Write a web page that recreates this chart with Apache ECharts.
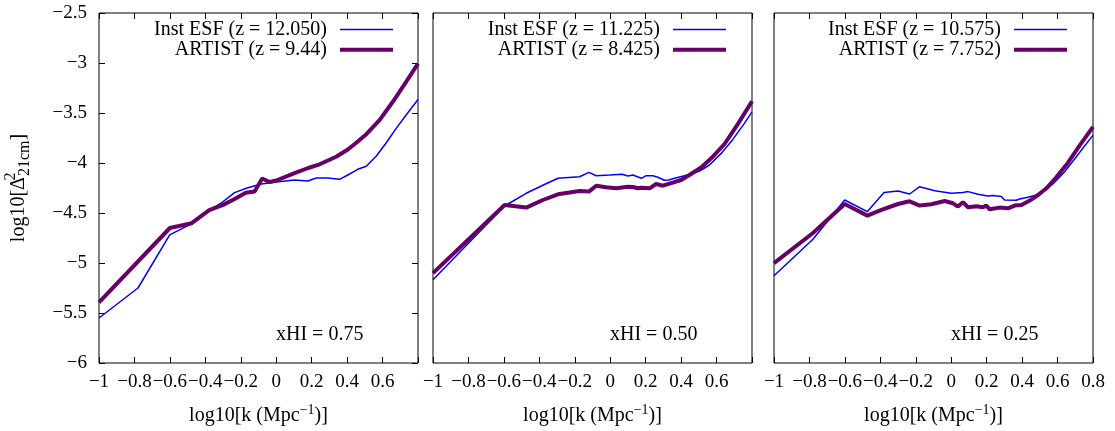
<!DOCTYPE html>
<html>
<head>
<meta charset="utf-8">
<script src="https://cdn.jsdelivr.net/npm/echarts@6/dist/echarts.min.js"></script>
<style>
  html, body { margin: 0; padding: 0; background: #fff; }
  #chart { width: 1115px; height: 431px; }
</style>
</head>
<body>
<div id="chart"></div>
<script>
  // axis ticks
  var xTicks = [-1, -0.8, -0.6, -0.4, -0.2, 0, 0.2, 0.4, 0.6, 0.8];
  var yTicks = [-6, -5.5, -5, -4.5, -4, -3.5, -3, -2.5];

  var xhiLabels = ['xHI = 0.75', 'xHI = 0.50', 'xHI = 0.25'];
  var esfNames = ['Inst ESF (z = 12.050)', 'Inst ESF (z = 11.225)', 'Inst ESF (z = 10.575)'];
  var artistNames = ['ARTIST (z = 9.44)', 'ARTIST (z = 8.425)', 'ARTIST (z = 7.752)'];

  // xHI = 0.75
  var esfK75 = [-1, -0.78, -0.601, -0.479, -0.376, -0.31, -0.235, -0.169, -0.084, 0.0, 0.104, 0.179, 0.226, 0.292, 0.329, 0.357, 0.404, 0.46, 0.508, 0.565, 0.62, 0.677, 0.733, 0.80];
  var esfP75 = [-5.55, -5.25, -4.718, -4.608, -4.475, -4.40, -4.296, -4.253, -4.21, -4.19, -4.17, -4.18, -4.15, -4.15, -4.157, -4.163, -4.12, -4.063, -4.033, -3.93, -3.80, -3.654, -3.52, -3.365];
  var artK75 = [-1, -0.60, -0.477, -0.378, -0.30, -0.237, -0.172, -0.122, -0.079, -0.038, 0.0, 0.10, 0.18, 0.245, 0.338, 0.404, 0.45, 0.507, 0.583, 0.658, 0.733, 0.80];
  var artP75 = [-5.394, -4.650, -4.602, -4.472, -4.419, -4.362, -4.298, -4.284, -4.155, -4.19, -4.175, -4.103, -4.05, -4.013, -3.937, -3.865, -3.80, -3.714, -3.571, -3.388, -3.189, -3.006];

  // xHI = 0.50
  var esfK50 = [-1, -0.596, -0.474, -0.38, -0.295, -0.173, -0.12, -0.079, -0.004, 0.068, 0.10, 0.128, 0.175, 0.203, 0.241, 0.269, 0.306, 0.331, 0.363, 0.419, 0.457, 0.504, 0.56, 0.626, 0.692, 0.757, 0.80];
  var esfP50 = [-5.168, -4.43, -4.303, -4.223, -4.153, -4.137, -4.094, -4.127, -4.12, -4.113, -4.13, -4.12, -4.153, -4.127, -4.127, -4.143, -4.173, -4.17, -4.153, -4.127, -4.11, -4.08, -4.02, -3.904, -3.764, -3.604, -3.488];
  var artK50 = [-1, -0.596, -0.474, -0.38, -0.295, -0.173, -0.12, -0.079, -0.023, 0.034, 0.10, 0.128, 0.156, 0.175, 0.222, 0.259, 0.297, 0.353, 0.40, 0.447, 0.513, 0.579, 0.645, 0.72, 0.80];
  var artP50 = [-5.101, -4.42, -4.446, -4.37, -4.313, -4.28, -4.286, -4.227, -4.243, -4.253, -4.237, -4.24, -4.253, -4.247, -4.253, -4.21, -4.227, -4.197, -4.17, -4.12, -4.044, -3.937, -3.81, -3.611, -3.382];

  // xHI = 0.25
  var esfK25 = [-1, -0.78, -0.601, -0.473, -0.379, -0.30, -0.235, -0.178, -0.093, 0.0, 0.066, 0.095, 0.151, 0.207, 0.235, 0.283, 0.301, 0.367, 0.386, 0.433, 0.48, 0.527, 0.574, 0.64, 0.706, 0.80];
  var esfP25 = [-5.128, -4.762, -4.37, -4.486, -4.296, -4.28, -4.31, -4.237, -4.277, -4.303, -4.296, -4.286, -4.313, -4.33, -4.326, -4.336, -4.37, -4.373, -4.36, -4.343, -4.32, -4.27, -4.21, -4.087, -3.937, -3.721];
  var artK25 = [-1, -0.78, -0.601, -0.473, -0.394, -0.30, -0.235, -0.178, -0.112, -0.037, 0.01, 0.038, 0.066, 0.095, 0.142, 0.179, 0.198, 0.217, 0.273, 0.32, 0.358, 0.396, 0.443, 0.49, 0.537, 0.593, 0.659, 0.725, 0.80];
  var artP25 = [-5.002, -4.70, -4.41, -4.526, -4.469, -4.41, -4.383, -4.426, -4.413, -4.38, -4.403, -4.436, -4.393, -4.443, -4.433, -4.443, -4.426, -4.463, -4.446, -4.453, -4.426, -4.42, -4.376, -4.32, -4.253, -4.143, -3.997, -3.824, -3.638];

  var esfK = [esfK75, esfK50, esfK25];
  var esfP = [esfP75, esfP50, esfP25];
  var artK = [artK75, artK50, artK25];
  var artP = [artP75, artP50, artP25];

  var FONT = 'Liberation Serif';
  var BLUE = '#0000ff', PURPLE = '#660066';
  var gridLeft = [99, 433, 774];
  var legendRight = [720, 387, 46];
  var noteX = [319, 653, 994];

  function pairs(xs, ys) {
    return xs.map(function (x, i) { return [x, ys[i]]; });
  }
  function fmt(v) {
    return String(Math.round(v * 10) / 10).replace('-', '\u2212');
  }
  var tick = { show: true, inside: true, length: 6, lineStyle: { color: '#000' } };

  var grids = [], xAxes = [], yAxes = [], series = [], legends = [], graphics = [];

  for (var i = 0; i < 3; i++) {
    grids.push({
      left: gridLeft[i], top: 13, width: 319, height: 350,
      show: true, borderColor: '#000', borderWidth: 1
    });
  }

  // bottom x axes
  for (var i = 0; i < 3; i++) {
    (function (p) {
      xAxes.push({
        type: 'value', gridIndex: p, position: 'bottom',
        min: xTicks[0], max: xTicks[xTicks.length - 1], interval: 0.2,
        axisLine: { show: false, onZero: false },
        axisTick: tick,
        splitLine: { show: false },
        axisLabel: {
          margin: 10, color: '#000', fontFamily: FONT, fontSize: 19,
          formatter: function (v) { return (p < 2 && v > 0.79) ? '' : fmt(v); }
        },
        name: '{m|log10[k (Mpc}{sup|\u22121}{m|)]}',
        nameLocation: 'middle', nameGap: 40,
        nameTextStyle: {
          rich: {
            m: { fontFamily: FONT, fontSize: 20, color: '#000' },
            sup: { fontFamily: FONT, fontSize: 14, color: '#000', padding: [0, 0, 12, 0] }
          }
        }
      });
    })(i);
  }
  // top mirror x axes
  for (var i = 0; i < 3; i++) {
    xAxes.push({
      type: 'value', gridIndex: i, position: 'top',
      min: xTicks[0], max: xTicks[xTicks.length - 1], interval: 0.2,
      axisLine: { show: false, onZero: false },
      axisTick: tick,
      axisLabel: { show: false },
      splitLine: { show: false }
    });
  }

  // y axes
  for (var i = 0; i < 3; i++) {
    var ya = {
      type: 'value', gridIndex: i, position: 'left',
      min: yTicks[0], max: yTicks[yTicks.length - 1], interval: 0.5,
      axisLine: { show: false, onZero: false },
      axisTick: i === 0 ? tick : { show: false },
      splitLine: { show: false },
      axisLabel: {
        show: i === 0, margin: 12, color: '#000', fontFamily: FONT, fontSize: 19,
        formatter: fmt
      }
    };
    if (i === 0) {
      ya.name = '{m|log10[\u0394}{sup|2}{sub|21cm}{m|]}';
      ya.nameLocation = 'middle';
      ya.nameRotate = 90;
      ya.nameGap = 64;
      ya.nameTextStyle = {
        rich: {
          m: { fontFamily: FONT, fontSize: 20, color: '#000' },
          sup: { fontFamily: FONT, fontSize: 16, color: '#000', width: 1, padding: [0, 0, 16, 0] },
          sub: { fontFamily: FONT, fontSize: 16, color: '#000', padding: [12, 0, 0, 0] }
        }
      };
    }
    yAxes.push(ya);
  }
  // right mirror ticks on the first panel
  yAxes.push({
    type: 'value', gridIndex: 0, position: 'right',
    min: yTicks[0], max: yTicks[yTicks.length - 1], interval: 0.5,
    axisLine: { show: false, onZero: false },
    axisTick: tick,
    axisLabel: { show: false },
    splitLine: { show: false }
  });

  for (var i = 0; i < 3; i++) {
    series.push({
      name: esfNames[i], type: 'line', xAxisIndex: i, yAxisIndex: i,
      symbol: 'none', showSymbol: false, data: pairs(esfK[i], esfP[i]),
      lineStyle: { color: BLUE, width: 1.5 },
      itemStyle: { color: BLUE }, z: 2
    });
    series.push({
      name: artistNames[i], type: 'line', xAxisIndex: i, yAxisIndex: i,
      symbol: 'none', showSymbol: false, data: pairs(artK[i], artP[i]),
      lineStyle: { color: PURPLE, width: 4 },
      itemStyle: { color: PURPLE }, z: 3
    });
    legends.push({
      data: [
        { name: esfNames[i], itemStyle: { opacity: 0 }, lineStyle: { color: BLUE, width: 1.5 } },
        { name: artistNames[i], itemStyle: { opacity: 0 }, lineStyle: { color: PURPLE, width: 4 } }
      ],
      orient: 'vertical', align: 'right',
      right: legendRight[i], top: 19.5,
      itemWidth: 53, itemHeight: 19, itemGap: 0.3, padding: 0,
      selectedMode: false,
      textStyle: { fontFamily: FONT, fontSize: 20, color: '#000', lineHeight: 19, padding: [0, 8, 0, 0] }
    });
    graphics.push({
      type: 'text', left: noteX[i] - 43, top: 325,
      style: { text: xhiLabels[i], fontFamily: FONT, fontSize: 20, fill: '#000' }
    });
  }

  var chart = echarts.init(document.getElementById('chart'));
  chart.setOption({
    animation: false,
    backgroundColor: '#fff',
    grid: grids,
    xAxis: xAxes,
    yAxis: yAxes,
    legend: legends,
    series: series,
    graphic: graphics
  });
</script>
</body>
</html>
